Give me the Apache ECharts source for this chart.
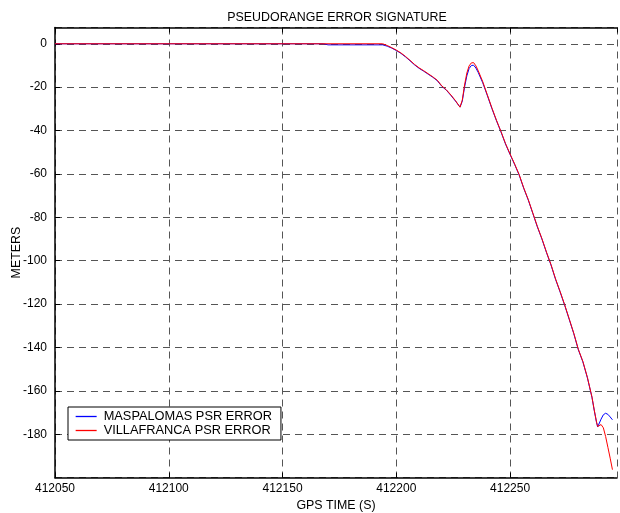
<!DOCTYPE html>
<html>
<head>
<meta charset="utf-8">
<script src="https://cdn.jsdelivr.net/npm/echarts@6/dist/echarts.min.js"></script>
<style>html,body{margin:0;padding:0;background:#fff}#c{width:620px;height:513px}</style>
</head>
<body>
<div id="c"></div>
<script>
// GPS time (s) and pseudorange error (m)
var blueT = [412050, 412168, 412170, 412194, 412196, 412198, 412200, 412202, 412204, 412206, 412208, 412210, 412212, 412214, 412216, 412218, 412220, 412222, 412224, 412226, 412228, 412229, 412230, 412231, 412232, 412233, 412234, 412235, 412236, 412238, 412240, 412242, 412244, 412246, 412248, 412250, 412252, 412254, 412256, 412258, 412260, 412262, 412264, 412266, 412268, 412270, 412272, 412274, 412276, 412278, 412280, 412282, 412284, 412286, 412287, 412288, 412288.5, 412289, 412290, 412291, 412292, 412293, 412294, 412295];
var blueV = [0, 0, -0.5, -0.5, -1.1, -2.0, -3.1, -4.4, -6.0, -7.8, -9.7, -11.3, -12.6, -14.0, -15.4, -17.0, -19.6, -21.4, -23.8, -26.4, -29.2, -26.5, -20.0, -14.8, -11.4, -10.0, -9.9, -11.2, -13.2, -18.0, -23.8, -29.8, -35.4, -40.6, -46.2, -51.0, -55.6, -60.5, -66.6, -72.0, -78.2, -84.4, -90.0, -96.2, -102.0, -108.6, -114.4, -120.5, -127.0, -133.6, -141.0, -146.6, -154.0, -163.0, -169.0, -174.5, -176.6, -176.0, -173.0, -171.0, -170.3, -170.8, -172.0, -173.3];
var redT = [412050, 412194, 412196, 412198, 412200, 412202, 412204, 412206, 412208, 412210, 412212, 412214, 412216, 412218, 412220, 412222, 412224, 412226, 412228, 412229, 412230, 412231, 412232, 412233, 412234, 412235, 412236, 412238, 412240, 412242, 412244, 412246, 412248, 412250, 412252, 412254, 412256, 412258, 412260, 412262, 412264, 412266, 412268, 412270, 412272, 412274, 412276, 412278, 412280, 412282, 412284, 412286, 412287, 412288, 412288.5, 412289, 412290, 412291, 412292, 412293, 412294, 412295];
var redV = [0, 0, -0.8, -1.8, -2.9, -4.2, -5.8, -7.6, -9.5, -11.1, -12.4, -13.8, -15.2, -16.8, -19.4, -21.2, -23.6, -26.2, -29.2, -26.0, -19.0, -13.5, -10.2, -8.8, -8.7, -10.2, -12.4, -17.5, -23.5, -29.5, -35.2, -40.4, -46.0, -50.8, -55.4, -60.3, -66.4, -71.8, -78.0, -84.2, -89.8, -96.0, -101.8, -108.4, -114.2, -120.3, -126.8, -133.4, -140.8, -146.4, -153.8, -162.8, -168.8, -174.3, -176.4, -176.2, -175.5, -177.0, -181.0, -186.0, -191.0, -196.3];
var seriesNames = ['MASPALOMAS PSR ERROR', 'VILLAFRANCA PSR ERROR'];
var seriesColors = ['#0000ff', '#ff0000'];
var xTicks = [412050, 412100, 412150, 412200, 412250];
var yTicks = [0, -20, -40, -60, -80, -100, -120, -140, -160, -180];

function pairs(t, v) { return t.map(function (x, i) { return [x, v[i]]; }); }

var font = 'Liberation Sans, Arial, Helvetica, sans-serif';
var gridStyle = { show: true, lineStyle: { color: '#555', width: 1, type: [7, 5] } };
var chart = echarts.init(document.getElementById('c'));
chart.setOption({
  animation: false,
  backgroundColor: '#fff',
  title: {
    text: 'PSEUDORANGE ERROR SIGNATURE',
    left: 332, top: 7, textAlign: 'center',
    textStyle: { fontFamily: font, fontSize: 12.4, fontWeight: 'normal', color: '#000' }
  },
  grid: { left: 55, right: 3, top: 27.5, bottom: 35.3, containLabel: false, outerBoundsMode: 'none' },
  legend: {
    orient: 'vertical', left: 68, top: 407,
    data: seriesNames.map(function (n, i) {
      return {
        name: n,
        itemStyle: { color: seriesColors[i], opacity: 0 },
        lineStyle: { color: seriesColors[i], width: 1.3, opacity: 1 }
      };
    }),
    backgroundColor: '#fff', borderColor: '#000', borderWidth: 1,
    padding: [3, 9, 3, 7], itemGap: 1, itemWidth: 21, itemHeight: 13,
    textStyle: { fontFamily: font, fontSize: 12.8, color: '#000', padding: [0, 0, 0, 2] }
  },
  xAxis: [{
    type: 'value', min: 412050, max: 412297, interval: 50,
    name: 'GPS TIME (S)', nameLocation: 'middle', nameGap: 21,
    nameTextStyle: { fontFamily: font, fontSize: 12.4, color: '#000' },
    axisLine: { show: true, onZero: false, lineStyle: { color: '#000', width: 1.5 } },
    axisTick: { show: true, inside: true, length: 5, lineStyle: { color: '#000' } },
    axisLabel: {
      fontFamily: font, fontSize: 12, color: '#000', margin: 5,
      showMaxLabel: false,
      formatter: function (v) { return xTicks.indexOf(v) >= 0 ? String(v) : ''; }
    },
    splitLine: gridStyle
  }, {
    type: 'value', position: 'top', min: 412050, max: 412297, interval: 50,
    axisLine: { show: true, onZero: false, lineStyle: { color: '#000', width: 1.5 } },
    axisTick: { show: true, inside: true, length: 5, lineStyle: { color: '#000' } },
    axisLabel: { show: false }, splitLine: { show: false }
  }],
  yAxis: {
    type: 'value', min: -200, max: 7.5, interval: 20,
    name: 'METERS', nameLocation: 'middle', nameGap: 32, nameRotate: 90,
    nameMoveOverlap: false,
    nameTextStyle: { fontFamily: font, fontSize: 12.4, color: '#000' },
    axisLine: { show: true, onZero: false, lineStyle: { color: '#000', width: 1.5 } },
    axisTick: { show: true, inside: true, length: 5, lineStyle: { color: '#000' } },
    axisLabel: {
      fontFamily: font, fontSize: 12, color: '#000', margin: 8,
      showMinLabel: false, showMaxLabel: false,
      formatter: function (v) { return yTicks.indexOf(v) >= 0 ? String(v) : ''; }
    },
    splitLine: gridStyle
  },
  series: [{
    name: seriesNames[0], type: 'line', data: pairs(blueT, blueV),
    showSymbol: false, symbol: 'none', color: seriesColors[0],
    itemStyle: { color: seriesColors[0] },
    lineStyle: { color: seriesColors[0], width: 1 }
  }, {
    name: seriesNames[1], type: 'line', data: pairs(redT, redV),
    showSymbol: false, symbol: 'none', color: seriesColors[1],
    itemStyle: { color: seriesColors[1] },
    lineStyle: { color: seriesColors[1], width: 1 }
  }]
});
</script>
</body>
</html>
